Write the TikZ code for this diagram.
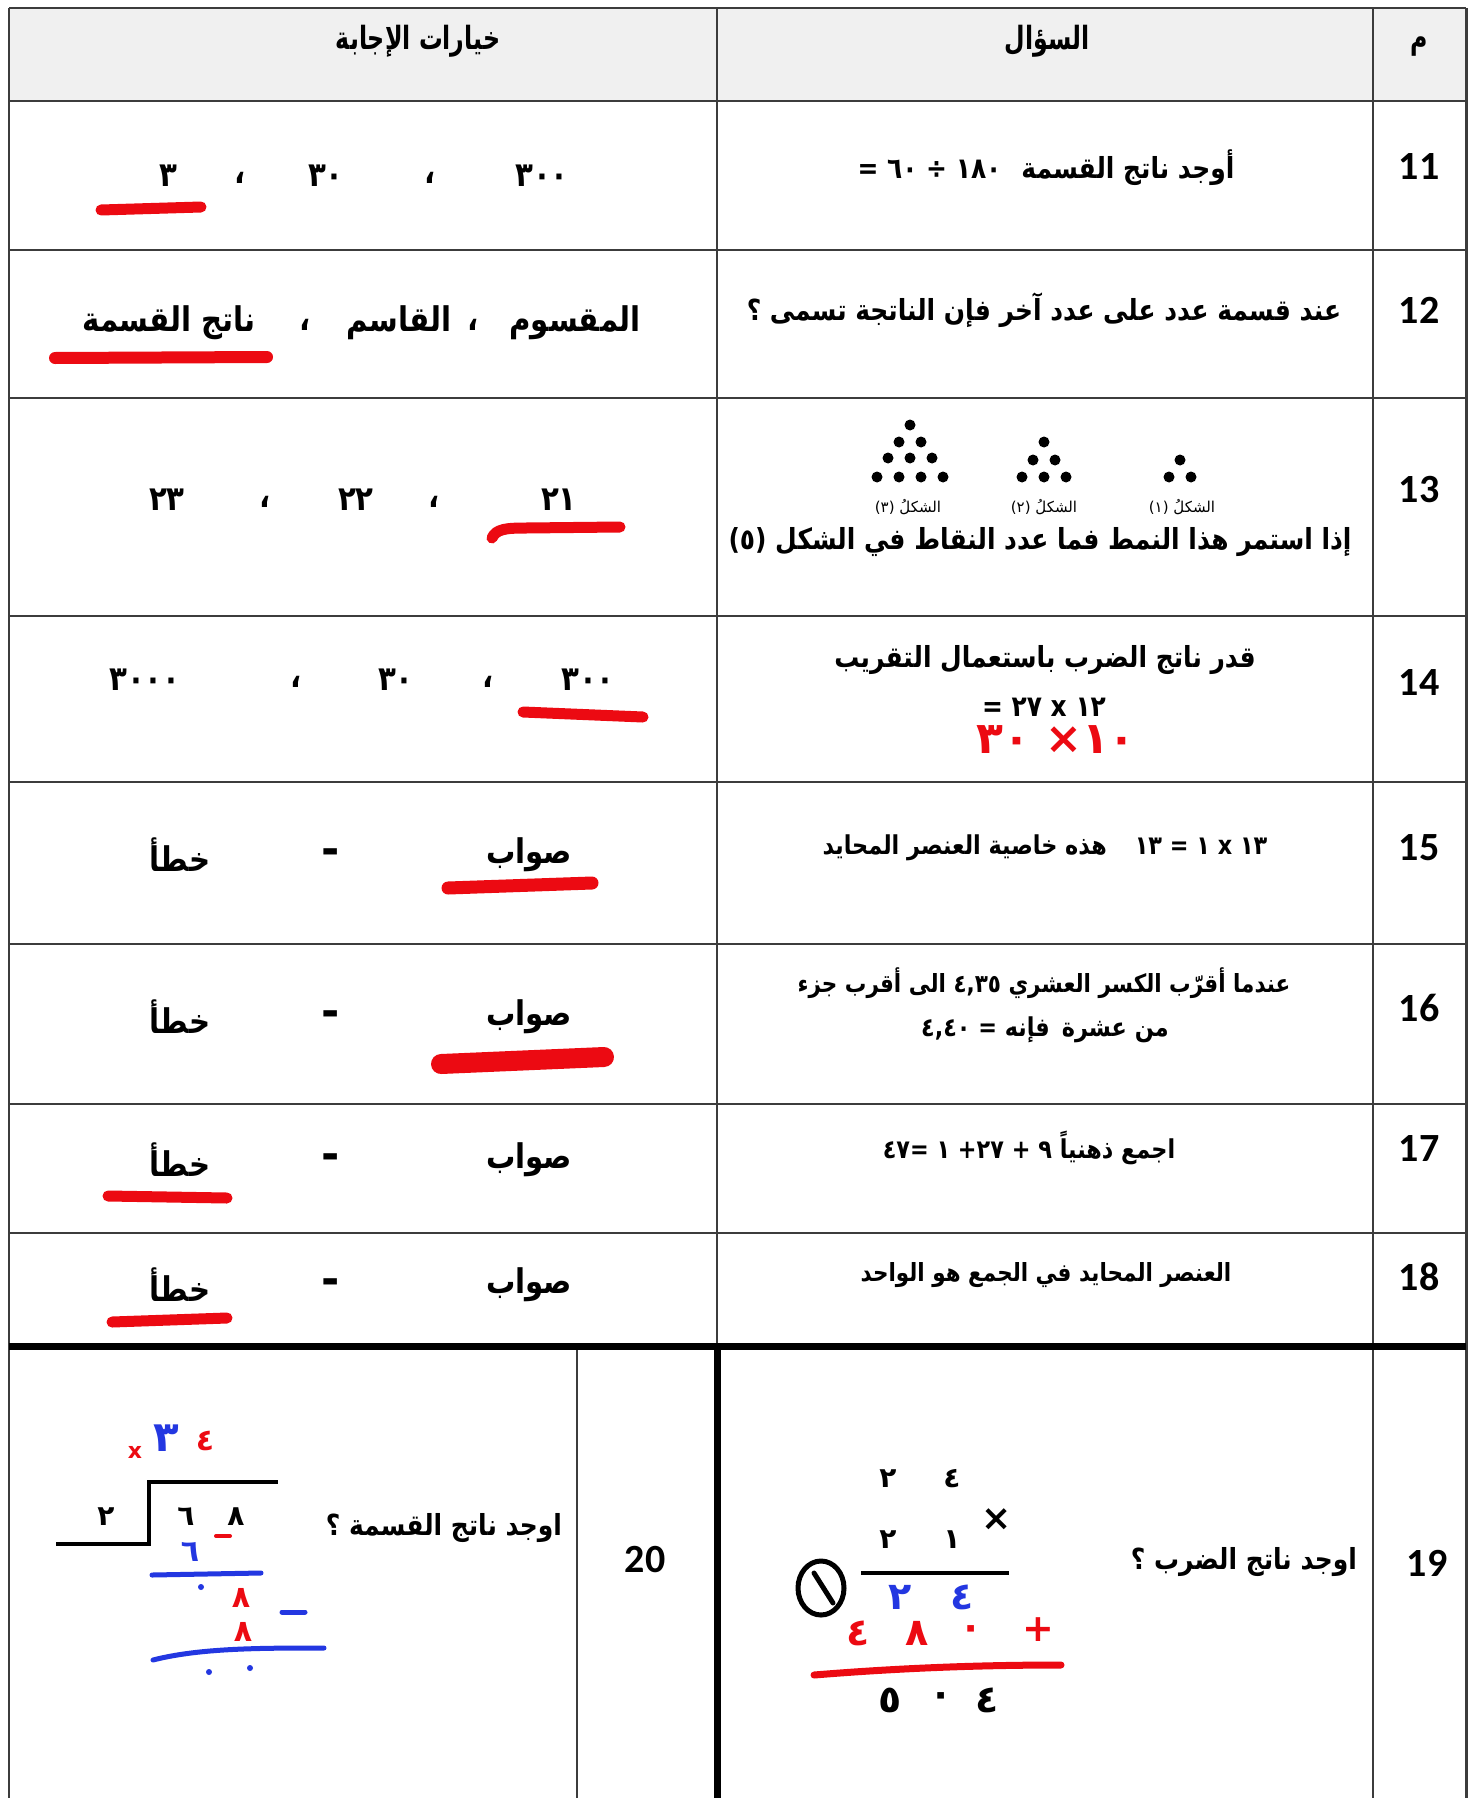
\documentclass[tikz,border=0pt]{standalone}
\usepackage{fontspec}
\newfontfamily\arabicfont[Script=Arabic]{DejaVu Sans}
\newfontfamily\arabicnarrow[Script=Arabic,FakeStretch=0.86]{DejaVu Sans}
\newfontfamily\arabiccond[Script=Arabic,FakeStretch=0.74]{DejaVu Sans}
\newfontfamily\numfont{Carlito}
\TeXXeTstate=1
\newcommand{\arR}[1]{\beginR#1\endR}
\definecolor{hdrfill}{RGB}{240,240,240}
\definecolor{gridcol}{RGB}{60,60,60}
\definecolor{inkred}{RGB}{236,10,18}
\definecolor{inkblue}{RGB}{35,55,225}
\begin{document}
\begin{tikzpicture}[x=0.5pt,y=-0.5pt,
  every node/.style={inner sep=0pt,outer sep=0pt},
  gridline/.style={draw=gridcol,line width=1pt},
  thickline/.style={draw=black,line width=3.5pt},
  hd/.style={font=\arabiccond\bfseries\fontsize{16}{19}\selectfont},
  num/.style={font=\numfont\bfseries\fontsize{20}{24}\selectfont},
  qtext/.style={font=\arabicnarrow\bfseries\fontsize{14.5}{17}\selectfont},
  qsmall/.style={font=\arabicnarrow\bfseries\fontsize{13}{16}\selectfont},
  ansnum/.style={font=\arabicnarrow\bfseries\fontsize{17}{20}\selectfont},
  answord/.style={font=\arabicnarrow\bfseries\fontsize{17}{20}\selectfont},
  dashmark/.style={font=\arabicfont\bfseries\fontsize{22}{24}\selectfont},
  figlabel/.style={font=\arabicfont\fontsize{7.5}{9}\selectfont},
  redans/.style={font=\arabicfont\bfseries\fontsize{22}{26}\selectfont,text=inkred},
  ul/.style={draw=inkred,line width=5.5pt,line cap=round},
  printd/.style={font=\arabicfont\bfseries\fontsize{14}{17}\selectfont},
  hwred/.style={font=\arabicfont\bfseries\fontsize{19}{22}\selectfont,text=inkred},
  hwblue/.style={font=\arabicfont\bfseries\fontsize{19}{22}\selectfont,text=inkblue},
  hwblack/.style={font=\arabicfont\bfseries\fontsize{19}{22}\selectfont,text=black},
  hwmid/.style={font=\arabicfont\bfseries\fontsize{15}{18}\selectfont},
  dot/.style={fill=black}
]
\useasboundingbox (0,0) rectangle (1471,1798);
\fill[white] (0,0) rectangle (1471,1798);
\fill[hdrfill] (9,8) rectangle (1466,101);

% grid
\draw[gridline] (9,8) -- (1466,8);
\foreach \yy in {101,250,398,616,782,944,1104,1233}{\draw[gridline] (9,\yy) -- (1466,\yy);}
\draw[gridline] (9,8) -- (9,1798);
\draw[gridline,line width=1.5pt] (1466,8) -- (1466,1798);
\draw[gridline] (717,8) -- (717,1346);
\draw[gridline] (1373,8) -- (1373,1798);
\draw[gridline] (577,1346) -- (577,1798);
\draw[thickline] (9,1346) -- (1466,1346);
\draw[thickline] (717,1346) -- (717,1798);

% header
\node[hd] (hans) at (418,41) {\arR{خيارات الإجابة}};
\node[hd] (hq) at (1047,41) {\arR{السؤال}};
\node[hd] (hm) at (1419,47) {\arR{م}};

% numbers
\node[num] (n11) at (1419,167) {11};
\node[num] (n12) at (1419,310) {12};
\node[num] (n13) at (1419,490) {13};
\node[num] (n14) at (1419,683) {14};
\node[num] (n15) at (1419,848) {15};
\node[num] (n16) at (1419,1008) {16};
\node[num] (n17) at (1419,1148) {17};
\node[num] (n18) at (1419,1277) {18};
\node[num] (n19) at (1427,1563) {19};
\node[num] (n20) at (645,1560) {20};

% row 11
\node[qtext] (q11) at (1046,168) {\arR{أوجد ناتج القسمة\hspace{10pt}\beginL= ٦٠ ÷ ١٨٠\endL}};
\node[ansnum] (a11c) at (168,176) {٣};
\node[ansnum] (a11k1) at (240,178) {،};
\node[ansnum] (a11b) at (326,176) {٣٠};
\node[ansnum] (a11k2) at (430,178) {،};
\node[ansnum] (a11a) at (542,176) {٣٠٠};
\draw[ul] (101,210) -- (201,207);

% row 12
\node[qtext] (q12) at (1044,310) {\arR{عند قسمة عدد على عدد آخر فإن الناتجة تسمى ؟}};
\node[answord] (a12a) at (575,323) {\arR{المقسوم}};
\node[answord] (a12k1) at (473,325) {،};
\node[answord] (a12b) at (399,323) {\arR{القاسم}};
\node[answord] (a12k2) at (305,325) {،};
\node[answord] (a12c) at (169,323) {\arR{ناتج القسمة}};
\draw[ul,line width=6pt] (55,358) -- (267,357);

% row 13 figures
\foreach \px/\py in {910/425, 899/442, 921/442, 888/458, 910/458, 932/458, 877/477, 899/477, 921/477, 943/477,
                     1044/442, 1033/460, 1055/460, 1022/477, 1044/477, 1066/477,
                     1180/460, 1169/477, 1191/477}{\fill[dot] (\px,\py) circle (5.5);}
\node[figlabel] (f3) at (908,507) {\arR{الشكلُ \beginL(٣)\endL}};
\node[figlabel] (f2) at (1044,507) {\arR{الشكلُ \beginL(٢)\endL}};
\node[figlabel] (f1) at (1182,507) {\arR{الشكلُ \beginL(١)\endL}};
\node[qtext] (q13) at (1040,542) {\arR{إذا استمر هذا النمط فما عدد النقاط في الشكل \beginL(٥)\endL}};
\node[ansnum] (a13c) at (167,500) {٢٣};
\node[ansnum] (a13k1) at (265,502) {،};
\node[ansnum] (a13b) at (356,500) {٢٢};
\node[ansnum] (a13k2) at (434,502) {،};
\node[ansnum] (a13a) at (559,500) {٢١};
\draw[ul] (492,538) .. controls (496,529) and (506,528) .. (526,528) -- (620,527);

% row 14
\node[qtext] (q14a) at (1045,660) {\arR{قدر ناتج الضرب باستعمال التقريب}};
\node[qtext] (q14b) at (1044,707) {\arR{\beginL= ٢٧ x ١٢\endL}};
\node[redans] (q14c) at (1056,740) {\arR{\beginL٣٠ ×\hbox{}١٠\endL}};
\node[ansnum] (a14c) at (145,680) {٣٠٠٠};
\node[ansnum] (a14k1) at (296,682) {،};
\node[ansnum] (a14b) at (396,680) {٣٠};
\node[ansnum] (a14k2) at (488,682) {،};
\node[ansnum] (a14a) at (588,680) {٣٠٠};
\draw[ul] (523,712) -- (643,717);

% row 15
\node[qsmall] (q15) at (1045,848) {\arR{\beginL١٣ = ١ x ١٣\endL\hspace{14pt}هذه خاصية العنصر المحايد}};
\node[answord] (a15b) at (180,855) {\arR{خطأ}};
\node[dashmark] (a15d) at (331,857) {-};
\node[answord] (a15a) at (529,855) {\arR{صواب}};
\draw[ul,line width=6.5pt] (448,888) -- (592,883);

% row 16
\node[qsmall,font=\arabicnarrow\bfseries\fontsize{12.5}{15}\selectfont] (q16a) at (1044,983) {\arR{عندما أقرّب الكسر العشري \beginL٤,٣٥\endL\ الى أقرب جزء}};
\node[qsmall] (q16b) at (1045,1030) {\arR{من عشرة\hspace{6pt}فإنه \beginL٤,٤٠ =\endL}};
\node[answord] (a16b) at (180,1017) {\arR{خطأ}};
\node[dashmark] (a16d) at (331,1019) {-};
\node[answord] (a16a) at (529,1017) {\arR{صواب}};
\draw[ul,line width=10pt] (441,1064) -- (604,1057);

% row 17
\node[qsmall] (q17) at (1029,1148) {\arR{اجمع ذهنياً \beginL٤٧\hbox{}= ١ +\hbox{}٢٧ + ٩\endL}};
\node[answord] (a17b) at (180,1160) {\arR{خطأ}};
\node[dashmark] (a17d) at (331,1162) {-};
\node[answord] (a17a) at (529,1160) {\arR{صواب}};
\draw[ul] (108,1196) -- (227,1198);

% row 18
\node[qsmall,font=\arabicnarrow\bfseries\fontsize{12.5}{15}\selectfont] (q18) at (1046,1275) {\arR{العنصر المحايد في الجمع هو الواحد}};
\node[answord] (a18b) at (180,1285) {\arR{خطأ}};
\node[dashmark] (a18d) at (331,1287) {-};
\node[answord] (a18a) at (529,1285) {\arR{صواب}};
\draw[ul] (112,1322) -- (227,1318);

% row 19 multiplication
\node[qtext,anchor=east] (q19) at (1357,1562) {\arR{اوجد ناتج الضرب ؟}};
\node[printd] (m1a) at (888,1479) {٢};
\node[printd] (m1b) at (952,1479) {٤};
\node[font=\arabicfont\bfseries\fontsize{18}{20}\selectfont] (mx) at (997,1520) {×};
\node[printd] (m2a) at (888,1540) {٢};
\node[printd] (m2b) at (952,1540) {١};
\draw[black,line width=2pt] (861,1573) -- (1009,1573);
\draw[black,line width=2.5pt] (821,1588) ellipse (23 and 27);
\draw[black,line width=2.5pt,line cap=round] (814,1573) -- (833,1603);
\node[hwblue] (m3a) at (900,1597) {٢};
\node[hwblue] (m3b) at (962,1597) {٤};
\node[hwred] (m4a) at (858,1633) {٤};
\node[hwred] (m4b) at (917,1633) {٨};
\node[hwred] (m4c) at (971,1633) {٠};
\node[hwred] (m4d) at (1038,1630) {+};
\draw[inkred,line width=3.5pt,line cap=round] (814,1675) .. controls (900,1668) and (980,1665) .. (1061,1665);
\node[hwblack] (m5a) at (890,1700) {٥};
\node[hwblack] (m5b) at (941,1700) {٠};
\node[hwblack] (m5c) at (987,1700) {٤};

% row 20 division
\node[qtext] (q20) at (444,1528) {\arR{اوجد ناتج القسمة ؟}};
\draw[black,line width=2pt] (56,1544) -- (149,1544) -- (149,1482) -- (278,1482);
\node[printd] (d1) at (106,1517) {٢};
\node[printd] (d2) at (186,1517) {٦};
\node[printd] (d3) at (236,1517) {٨};
\draw[inkred,line width=2pt,line cap=round] (216,1536) -- (230,1536);
\node[font=\arabicfont\bfseries\fontsize{11}{13}\selectfont,text=inkred] (dx) at (135,1452) {x};
\node[hwblue,font=\arabicfont\bfseries\fontsize{21}{24}\selectfont] (dq1) at (166,1438) {٣};
\node[hwmid,text=inkred] (dq2) at (205,1441) {٤};
\node[hwmid,text=inkblue] (d4) at (190,1552) {٦};
\draw[inkblue,line width=2.5pt,line cap=round] (152,1575) -- (261,1573);
\fill[inkblue] (201,1587) circle (3);
\node[hwmid,text=inkred] (d5) at (241,1598) {٨};
\draw[inkblue,line width=2.5pt,line cap=round] (282,1612) -- (305,1612);
\node[hwmid,text=inkred] (d6) at (243,1632) {٨};
\draw[inkblue,line width=2.5pt,line cap=round] (153,1660) .. controls (200,1648) and (260,1648) .. (324,1648);
\fill[inkblue] (209,1672) circle (3);
\fill[inkblue] (250,1668) circle (3);
\end{tikzpicture}
\end{document}
